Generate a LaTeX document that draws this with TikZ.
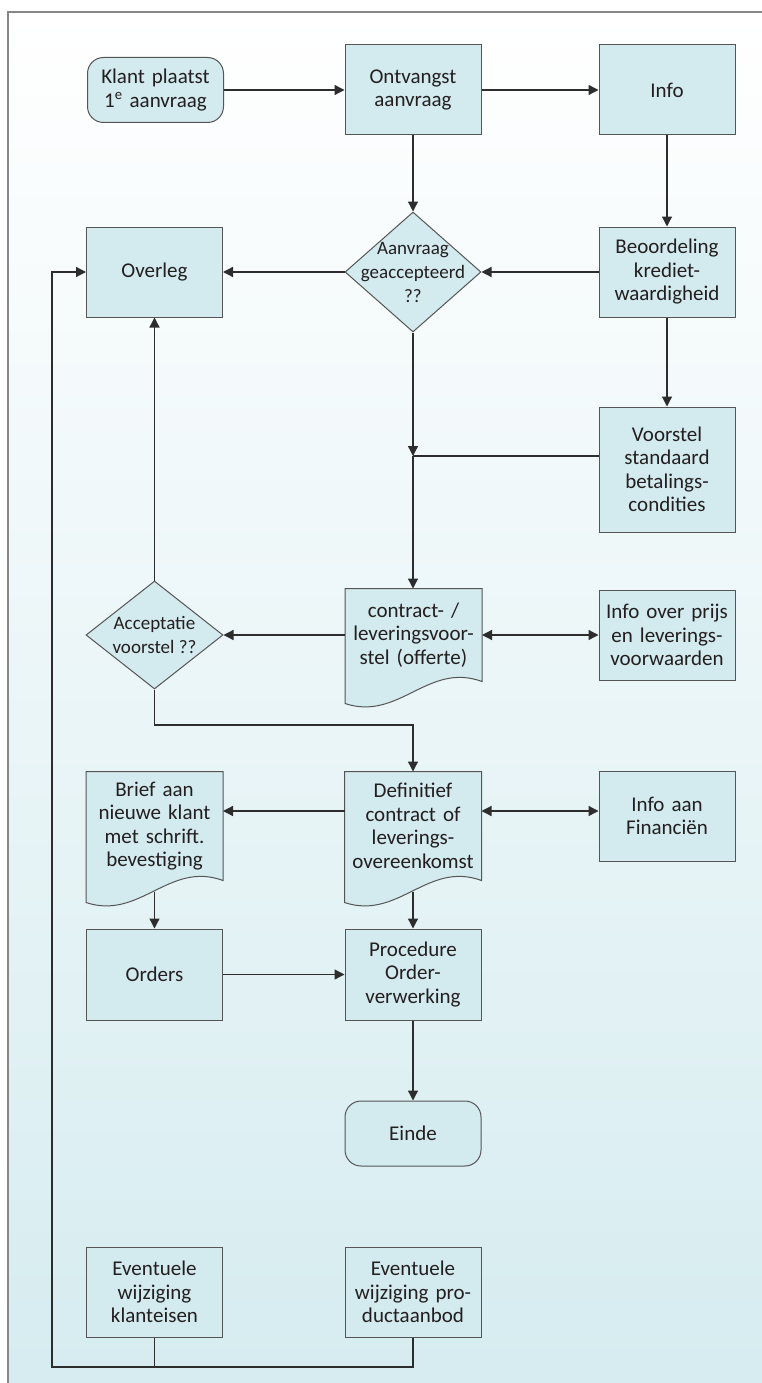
\documentclass[tikz,border=0pt]{standalone}
\usepackage{fontspec}
\setmainfont{Carlito}
\usetikzlibrary{shapes.geometric,arrows.meta,calc,backgrounds}

\definecolor{boxfill}{RGB}{211,234,238}
\definecolor{boxline}{RGB}{85,85,85}
\definecolor{linecol}{RGB}{45,45,45}
\definecolor{textcol}{RGB}{35,31,32}
\definecolor{bgbottom}{RGB}{214,236,240}
\definecolor{framecol}{RGB}{135,135,135}

\tikzset{
  procbox/.style={draw=boxline, fill=boxfill, line width=1pt,
    minimum width=136pt, minimum height=90pt, inner sep=0pt,
    text width=134pt, align=center, text=textcol,
    font=\fontsize{21}{23.5}\selectfont},
  termbox/.style={procbox, rounded corners=16pt, minimum height=65pt},
  docbox/.style={procbox, draw=none, fill=none},
  decision/.style={diamond, draw=boxline, fill=boxfill, line width=1pt,
    minimum width=136pt, minimum height=120pt, inner sep=0pt},
  decisiontext/.style={align=center, text=textcol,
    font=\fontsize{19}{24}\selectfont},
  link/.style={draw=linecol, line width=1.3pt},
  arrow/.style={link, -{Triangle[length=10pt,width=10pt]}},
  twoway/.style={link, {Triangle[length=10pt,width=10pt]}-{Triangle[length=10pt,width=10pt]}}
}

\begin{document}
\begin{tikzpicture}[x=1pt, y=-1pt]
  \useasboundingbox (0,0) rectangle (762,1383);
  \begin{scope}[on background layer]
    \shade[top color=white, bottom color=bgbottom] (8,12) rectangle (762,1383);
  \end{scope}
  \draw[framecol, line width=1.5pt] (8,1383) -- (8,12) -- (762,12);

  % top row
  \node[termbox] (klant) at (155.5,90) {Klant plaatst\\1\textsuperscript{e} aanvraag};
  \node[procbox] (ontv) at (413,90) {Ontvangst\\aanvraag};
  \node[procbox] (info) at (667,90) {Info};

  % acceptance of the request
  \node[decision, label={[decisiontext]center:{Aanvraag\\geaccepteerd\\??}}] (aanv) at (413,272) {};
  \node[procbox] (overleg) at (154.5,272) {Overleg};
  \node[procbox] (beoord) at (667,272) {Beoordeling\\krediet-\\waardigheid};
  \node[procbox, minimum height=125pt] (voorstel) at (667,469.5) {Voorstel\\standaard\\betalings-\\condities};

  % proposal
  \node[decision, minimum width=137pt, minimum height=108pt,
    label={[decisiontext]center:{Acceptatie\\voorstel ??}}] (accept) at (154.5,635) {};
  \node[docbox, minimum height=92pt] (contract) at (413.5,635) {contract- /\\leveringsvoor-\\stel (offerte)};
  \node[procbox] (infoprijs) at (667,635) {Info over prijs\\en leverings-\\voorwaarden};

  % contract
  \node[docbox, minimum height=108pt] (brief) at (154.5,826) {Brief aan\\nieuwe klant\\met schrift.\\bevestiging};
  \node[docbox, minimum height=108pt] (defin) at (413,826) {Definitief\\contract of\\leverings-\\overeenkomst};
  \node[procbox] (infofin) at (667,816) {Info aan\\Financiën};
  \node[procbox, minimum height=91pt] (orders) at (154.5,974.5) {Orders};
  \node[procbox, minimum height=91pt] (proc) at (413,974.5) {Procedure\\Order-\\verwerking};
  \node[termbox] (einde) at (413,1133.5) {Einde};

  % changes
  \node[procbox] (wijzklant) at (154.5,1292) {Eventuele\\wijziging\\klanteisen};
  \node[procbox] (wijzprod) at (413,1292) {Eventuele\\wijziging pro-\\ductaanbod};

  % document outlines
  \begin{scope}[on background layer]
    \foreach \doc in {contract,brief,defin}
      \path[draw=boxline, fill=boxfill, line width=1pt]
        (\doc.north west) -- (\doc.north east) -- (\doc.south east)
        .. controls ($(\doc.south east)+(-54,-20)$) and ($(\doc.south west)+(54,40)$)
        .. ($(\doc.south west)+(0,22)$) -- cycle;
  \end{scope}

  % connectors
  \draw[arrow] (klant.east) -- (ontv.west);
  \draw[arrow] (ontv.east) -- (info.west);
  \draw[arrow] (ontv.south) -- (aanv.north);
  \draw[arrow] (info.south) -- (beoord.north);
  \draw[arrow] (beoord.west) -- (aanv.east);
  \draw[arrow] (aanv.west) -- (overleg.east);
  \draw[arrow] (beoord.south) -- (voorstel.north);
  \coordinate (join) at (413,456);
  \draw[arrow] (aanv.south) -- (join);
  \draw[link] (voorstel.west |- join) -- (join);
  \draw[arrow] (join) -- (contract.north -| join);
  \draw[twoway] (contract.east) -- (infoprijs.west);
  \draw[arrow] (contract.west) -- (accept.east);
  \draw[arrow] (accept.north) -- (overleg.south);
  \coordinate (bend) at (413,725);
  \draw[arrow] (accept.south) |- (bend) -- (defin.north);
  \coordinate (row4) at (0,811);
  \draw[arrow] (defin.west |- row4) -- (brief.east |- row4);
  \draw[twoway] (defin.east |- row4) -- (infofin.west |- row4);
  \draw[arrow] ($(brief.south)+(0,11)$) -- (orders.north);
  \draw[arrow] ($(defin.south)+(0,11)$) -- (proc.north);
  \draw[arrow] (orders.east) -- (proc.west);
  \draw[arrow] (proc.south) -- (einde.north);
  \coordinate (loop) at (52,1367);
  \draw[arrow] (wijzprod.south) |- (loop) |- (overleg.west);
  \draw[link] (wijzklant.south) -- (wijzklant.south |- loop);
\end{tikzpicture}
\end{document}
